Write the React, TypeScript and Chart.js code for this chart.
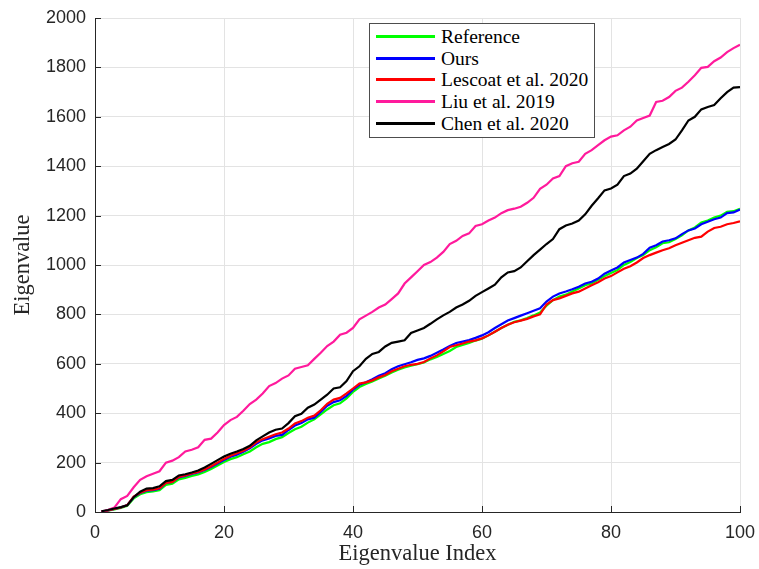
import React, { useEffect, useRef } from "react";
import { Chart, registerables } from "chart.js";

Chart.register(...registerables);

const INDEX: number[] = Array.from({ length: 100 }, (_, k) => k + 1);

const REFERENCE = [
  1, 5, 10, 16, 25, 55, 72, 80, 83, 88,
  110, 115, 132, 138, 146, 152, 162, 174, 188, 202,
  214, 222, 234, 245, 262, 276, 283, 295, 303, 320,
  335, 345, 362, 375, 395, 415, 432, 440, 460, 486,
  506, 518, 528, 540, 552, 565, 576, 585, 592, 598,
  605, 618, 628, 640, 652, 668, 676, 684, 694, 702,
  715, 730, 745, 758, 770, 776, 785, 796, 808, 835,
  858, 872, 880, 893, 905, 918, 925, 940, 955, 968,
  980, 1000, 1012, 1028, 1040, 1060, 1072, 1088, 1092, 1105,
  1120, 1140, 1152, 1172, 1180, 1192, 1200, 1215, 1218, 1228,
];

const OURS = [
  2, 6, 12, 18, 28, 60, 77, 86, 88, 94,
  118, 122, 140, 146, 154, 160, 170, 182, 196, 210,
  224, 232, 244, 258, 276, 290, 298, 308, 312, 332,
  350, 360, 375, 382, 405, 430, 445, 452, 470, 495,
  515, 525, 538, 552, 562, 578, 590, 598, 606, 616,
  622, 632, 645, 658, 672, 684, 690, 696, 705, 715,
  728, 745, 760, 775, 785, 795, 805, 815, 825, 852,
  872, 885, 893, 902, 912, 925, 932, 945, 965, 978,
  990, 1010, 1020, 1030, 1045, 1070, 1080, 1095, 1100, 1108,
  1125, 1140, 1148, 1165, 1175, 1185, 1192, 1210, 1213, 1225,
];

const LESCOAT = [
  2, 6, 12, 18, 28, 62, 78, 88, 90, 96,
  118, 122, 142, 148, 156, 162, 172, 185, 200, 215,
  228, 238, 248, 262, 282, 295, 305, 315, 322, 338,
  358, 368, 382, 390, 412, 438, 455, 462, 480, 500,
  520, 525, 533, 545, 555, 570, 580, 590, 596, 600,
  607, 622, 634, 650, 668, 675, 682, 690, 695, 703,
  715, 730, 745, 758, 768, 775, 782, 792, 800, 840,
  858, 865, 875, 885, 892, 905, 918, 930, 945, 955,
  970, 985, 995, 1010, 1028, 1040, 1050, 1060, 1068, 1080,
  1090, 1100, 1110, 1115, 1135, 1150, 1155, 1165, 1170, 1177,
];

const LIU = [
  2, 8, 18, 52, 65, 100, 130, 145, 155, 165,
  200, 208, 222, 245, 252, 262, 292, 297, 322, 352,
  372, 385, 410, 437, 455, 480, 510, 522, 540, 553,
  580, 587, 594, 620, 645, 672, 690, 718, 726, 745,
  780, 795, 810, 828, 840, 862, 885, 925, 950, 975,
  1000, 1012, 1030, 1053, 1085, 1098, 1118, 1128, 1158, 1165,
  1180, 1192, 1210, 1222, 1228, 1236, 1252, 1272, 1308, 1325,
  1350, 1360, 1400, 1412, 1418, 1450, 1465, 1485, 1505, 1520,
  1525, 1545, 1560, 1585, 1595, 1605, 1660, 1665, 1680, 1705,
  1718, 1742, 1768, 1798, 1802, 1825, 1840, 1862, 1878, 1892,
];

const CHEN = [
  3, 8, 14, 20, 27, 60, 82, 95, 97, 104,
  125, 130, 148, 153, 160, 168, 180, 195, 210, 225,
  236, 245, 255, 268, 290, 306, 322, 333, 338, 360,
  388, 398, 422, 435, 455, 475, 500, 505, 530, 570,
  590, 620, 640, 648, 670, 685, 690, 695, 725, 735,
  745, 762, 780, 796, 810, 828, 840, 855, 875, 890,
  905, 920, 950, 970, 975, 990, 1015, 1040, 1062, 1085,
  1105, 1145, 1160, 1168, 1180, 1205, 1240, 1270, 1302, 1310,
  1325, 1360, 1370, 1390, 1420, 1450, 1465, 1478, 1490, 1508,
  1545, 1585, 1600, 1630, 1640, 1648, 1675, 1700, 1718, 1720,
];

const SERIES_NAMES = ["Reference", "Ours", "Lescoat et al. 2020", "Liu et al. 2019", "Chen et al. 2020"];
const SERIES_VALUES = [REFERENCE, OURS, LESCOAT, LIU, CHEN];
const SERIES_COLORS = ["#00ff00", "#0000ff", "#ff0000", "#ff1a9c", "#000000"];

const X_TICKS = [0, 20, 40, 60, 80, 100];
const Y_TICKS = [0, 200, 400, 600, 800, 1000, 1200, 1400, 1600, 1800, 2000];

const AXIS_COLOR = "#262626";
const GRID_COLOR = "#e3e3e3";
const TICK_FONT = "'Liberation Sans', Arial, sans-serif";
const SERIF = "'Liberation Serif', 'Times New Roman', serif";

const innerTicks = {
  id: "innerTicks",
  afterDatasetsDraw(chart: any) {
    const { ctx, chartArea, scales } = chart;
    ctx.save();
    ctx.strokeStyle = AXIS_COLOR;
    ctx.lineWidth = 1;
    ctx.beginPath();
    for (const v of Y_TICKS) {
      const y = Math.round(scales.y.getPixelForValue(v)) + 0.5;
      ctx.moveTo(chartArea.left, y);
      ctx.lineTo(chartArea.left + 6, y);
    }
    for (const v of X_TICKS) {
      const x = Math.round(scales.x.getPixelForValue(v)) + 0.5;
      ctx.moveTo(x, chartArea.bottom);
      ctx.lineTo(x, chartArea.bottom - 6);
    }
    ctx.stroke();
    ctx.restore();
  },
};

export default function App() {
  const canvasRef = useRef<HTMLCanvasElement>(null);

  useEffect(() => {
    document.body.style.margin = "0";
    const canvas = canvasRef.current;
    if (!canvas) return;
    const datasets = SERIES_NAMES.map((name, s) => ({
      label: name,
      data: SERIES_VALUES[s].map((v, k) => ({ x: INDEX[k], y: v })),
      borderColor: SERIES_COLORS[s],
      backgroundColor: SERIES_COLORS[s],
      borderWidth: 2.2,
      pointRadius: 0,
      tension: 0,
      fill: false,
      order: SERIES_NAMES.length - s,
    }));
    const chart = new Chart(canvas, {
      type: "line",
      data: { datasets },
      plugins: [innerTicks],
      options: {
        responsive: false,
        animation: false,
        events: [],
        layout: { padding: { left: 0, top: 18, right: 19, bottom: 0 } },
        plugins: { legend: { display: false }, tooltip: { enabled: false } },
        scales: {
          x: {
            type: "linear",
            min: 0,
            max: 100,
            afterBuildTicks: (scale: any) => {
              scale.ticks = X_TICKS.map((v) => ({ value: v }));
            },
            afterFit: (scale: any) => {
              scale.height = 57;
              scale.paddingLeft = 0;
              scale.paddingRight = 0;
            },
            grid: { color: GRID_COLOR, drawTicks: false, lineWidth: 1 },
            border: { color: AXIS_COLOR, width: 1 },
            ticks: {
              color: AXIS_COLOR,
              padding: 10,
              font: { family: TICK_FONT, size: 18 },
              maxRotation: 0,
              callback: (v: any) => String(v),
            },
            title: {
              display: true,
              text: "Eigenvalue Index",
              color: AXIS_COLOR,
              font: { family: SERIF, size: 22.5 },
              padding: { top: 0, bottom: 1 },
            },
          },
          y: {
            type: "linear",
            min: 0,
            max: 2000,
            afterBuildTicks: (scale: any) => {
              scale.ticks = Y_TICKS.map((v) => ({ value: v }));
            },
            afterFit: (scale: any) => {
              scale.width = 95;
              scale.paddingTop = 0;
              scale.paddingBottom = 0;
            },
            grid: { color: GRID_COLOR, drawTicks: false, lineWidth: 1 },
            border: { color: AXIS_COLOR, width: 1 },
            ticks: {
              color: AXIS_COLOR,
              padding: 9,
              font: { family: TICK_FONT, size: 18 },
              callback: (v: any) => String(v),
            },
            title: {
              display: true,
              text: "Eigenvalue",
              color: AXIS_COLOR,
              font: { family: SERIF, size: 22.5 },
              padding: { top: 9.5, bottom: 0 },
            },
          },
        },
      },
    });
    return () => chart.destroy();
  }, []);

  const BOX_TOP = 23;
  const legendRow = (name: string, color: string, s: number) => {
    const center = Math.round(36 + s * 21.7);
    return (
      <div
        key={name}
        style={{
          position: "absolute",
          left: 6,
          top: center - BOX_TOP - 1 - 11,
          height: 23,
          display: "flex",
          alignItems: "center",
        }}
      >
        <div style={{ width: 59, height: 3, background: color, marginRight: 6 }} />
        <span style={{ fontFamily: SERIF, fontSize: 19.5, color: "#000", whiteSpace: "nowrap", lineHeight: "23px" }}>
          {name}
        </span>
      </div>
    );
  };

  return (
    <div style={{ position: "fixed", left: 0, top: 0, width: 759, height: 569, background: "#fff" }}>
      <canvas ref={canvasRef} width={759} height={569} style={{ width: 759, height: 569, display: "block" }} />
      <div
        style={{
          position: "absolute",
          left: 369,
          top: BOX_TOP,
          width: 226,
          height: 115,
          boxSizing: "border-box",
          border: "1px solid #4d4d4d",
          background: "#fff",
        }}
      >
        {SERIES_NAMES.map((n, s) => legendRow(n, SERIES_COLORS[s], s))}
      </div>
    </div>
  );
}
